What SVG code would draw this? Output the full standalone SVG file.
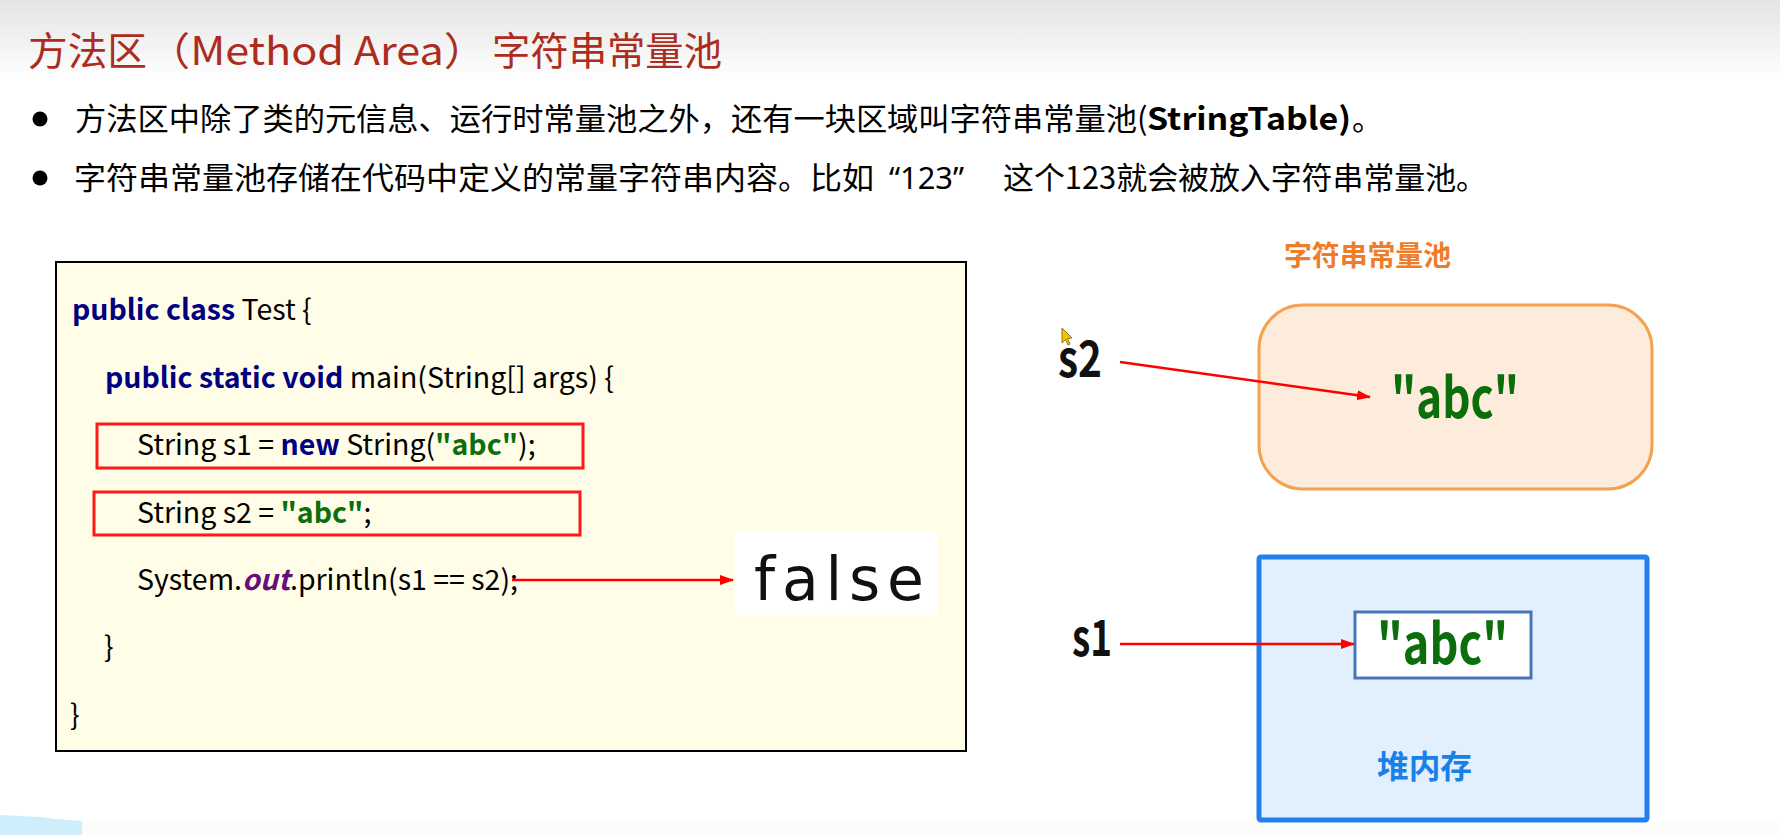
<svg xmlns="http://www.w3.org/2000/svg" width="1780" height="835" viewBox="0 0 1780 835">
  <defs>
    <linearGradient id="hdr" x1="0" y1="0" x2="0" y2="1">
      <stop offset="0" stop-color="#e4e4e4"/>
      <stop offset="1" stop-color="#ffffff"/>
    </linearGradient>
    <marker id="arr" markerWidth="14" markerHeight="10" refX="13" refY="5" orient="auto" markerUnits="userSpaceOnUse">
      <path d="M0,0 L14,5 L0,10 Z" fill="#ff0000"/>
    </marker>
    <style>
      .cjk { font-family: "Noto Sans CJK SC", "Noto Sans", sans-serif; }
      .title { font-size: 39px; fill: #ad2c20; }
      .bul { font-size: 31px; fill: #000; }
      .code { font-family: "Noto Sans CJK SC", "Noto Sans", sans-serif; font-size: 28.5px; fill: #000; }
      .kw { font-weight: bold; fill: #000080; }
      .str { font-weight: bold; fill: #0b6e0b; }
      .out { font-weight: bold; font-style: italic; fill: #660e7a; }
      .redbox { fill: none; stroke: #ff1a1a; stroke-width: 3; }
      .conn { fill: none; stroke: #ff0000; stroke-width: 2.5; marker-end: url(#arr); }
      .var { font-family: "Noto Sans CJK SC", "Noto Sans", sans-serif; font-weight: bold; font-size: 50px; fill: #111; }
      .abc { font-family: "Noto Sans CJK SC", "Noto Sans", sans-serif; font-weight: bold; font-size: 56px; fill: #0b6e0b; }
    </style>
  </defs>

  <rect x="0" y="0" width="1780" height="835" fill="#ffffff"/>
  <rect x="0" y="0" width="1780" height="80" fill="url(#hdr)"/>
  <rect x="0" y="821" width="1780" height="14" fill="#fcfcfc"/>
  <path d="M0,815 C25,816 45,817 55,819 L82,821 L82,835 L0,835 Z" fill="#cdeefa"/>

  <g id="title" class="cjk title">
    <text x="28" y="65" textLength="119" lengthAdjust="spacingAndGlyphs">方法区</text>
    <text x="147" y="65" textLength="340" lengthAdjust="spacingAndGlyphs">（Method Area）</text>
    <text x="492" y="65" textLength="230" lengthAdjust="spacingAndGlyphs">字符串常量池</text>
  </g>

  <g id="bullets" class="cjk bul">
    <circle cx="40" cy="119" r="7.5" fill="#000"/>
    <circle cx="40" cy="178" r="7.5" fill="#000"/>
    <text x="75" y="130" textLength="1062" lengthAdjust="spacingAndGlyphs">方法区中除了类的元信息、运行时常量池之外，还有一块区域叫字符串常量池</text>
    <text x="1137" y="130">(</text>
    <text x="1147" y="130" font-weight="bold" textLength="204" lengthAdjust="spacingAndGlyphs">StringTable)</text>
    <text x="1352" y="130">。</text>
    <text x="74" y="189" textLength="800" lengthAdjust="spacingAndGlyphs">字符串常量池存储在代码中定义的常量字符串内容。比如</text>
    <text x="889" y="189" font-family="'Noto Sans', sans-serif" textLength="75" lengthAdjust="spacingAndGlyphs">“123”</text>
    <text x="1003" y="189" textLength="484" lengthAdjust="spacingAndGlyphs">这个123就会被放入字符串常量池。</text>
  </g>

  <g id="code-box">
    <rect x="56" y="262" width="910" height="489" fill="#fffde7" stroke="#000" stroke-width="2"/>
    <text class="code" x="72" y="320"><tspan class="kw">public class</tspan> Test {</text>
    <text class="code" x="105" y="388"><tspan class="kw">public static void</tspan> main(String[] args) {</text>
    <rect class="redbox" x="97" y="424" width="486" height="44"/>
    <text class="code" x="137" y="455">String s1 = <tspan class="kw">new</tspan> String(<tspan class="str">"abc"</tspan>);</text>
    <rect class="redbox" x="94" y="492" width="486" height="43"/>
    <text class="code" x="137" y="523">String s2 = <tspan class="str">"abc"</tspan>;</text>
    <text class="code" x="137" y="590">System.<tspan class="out">out</tspan>.println(s1 == s2);</text>
    <text class="code" x="104" y="657">}</text>
    <text class="code" x="70" y="725">}</text>
  </g>

  <g id="false-box">
    <rect x="735" y="532" width="203" height="83" fill="#ffffff"/>
    <text x="754" y="600" font-family="'DejaVu Sans', sans-serif" font-size="60" fill="#111" textLength="170" lengthAdjust="spacing">false</text>
  </g>

  <g id="pool">
    <text x="1284" y="266" class="cjk" font-size="28" font-weight="bold" fill="#ee7d2a" textLength="167" lengthAdjust="spacingAndGlyphs">字符串常量池</text>
    <rect x="1259" y="305" width="393" height="184" rx="44" ry="44" fill="#fdebdc" stroke="#f4a24f" stroke-width="3"/>
    <text class="abc" x="1391" y="418" textLength="128" lengthAdjust="spacingAndGlyphs">"abc"</text>
  </g>

  <g id="heap">
    <rect x="1259" y="557" width="388" height="263" fill="#e2effc" stroke="#1f80ee" stroke-width="5" rx="2"/>
    <rect x="1355" y="612" width="176" height="66" fill="#ffffff" stroke="#4a74b8" stroke-width="3"/>
    <text class="abc" x="1377" y="664" textLength="131" lengthAdjust="spacingAndGlyphs">"abc"</text>
    <text x="1377" y="778" class="cjk" font-size="32" font-weight="bold" fill="#1a7fe6" textLength="95" lengthAdjust="spacingAndGlyphs">堆内存</text>
  </g>

  <g id="s2-label">
    <text class="var" x="1058" y="377" textLength="44" lengthAdjust="spacingAndGlyphs">s2</text>
  </g>
  <g id="s1-label">
    <text class="var" x="1072" y="656" textLength="40" lengthAdjust="spacingAndGlyphs">s1</text>
  </g>

  <g id="cursor">
    <path d="M1062,328 L1062,343 L1065.5,339.5 L1068,345 L1070,344 L1067.5,338.5 L1072,338 Z" fill="#f5c400" stroke="#7a5a00" stroke-width="0.8"/>
  </g>

  <g id="connectors">
    <line class="conn" x1="512" y1="580" x2="733" y2="580"/>
    <line class="conn" x1="1120" y1="362" x2="1370" y2="397"/>
    <line class="conn" x1="1120" y1="644" x2="1354" y2="644"/>
  </g>
</svg>
